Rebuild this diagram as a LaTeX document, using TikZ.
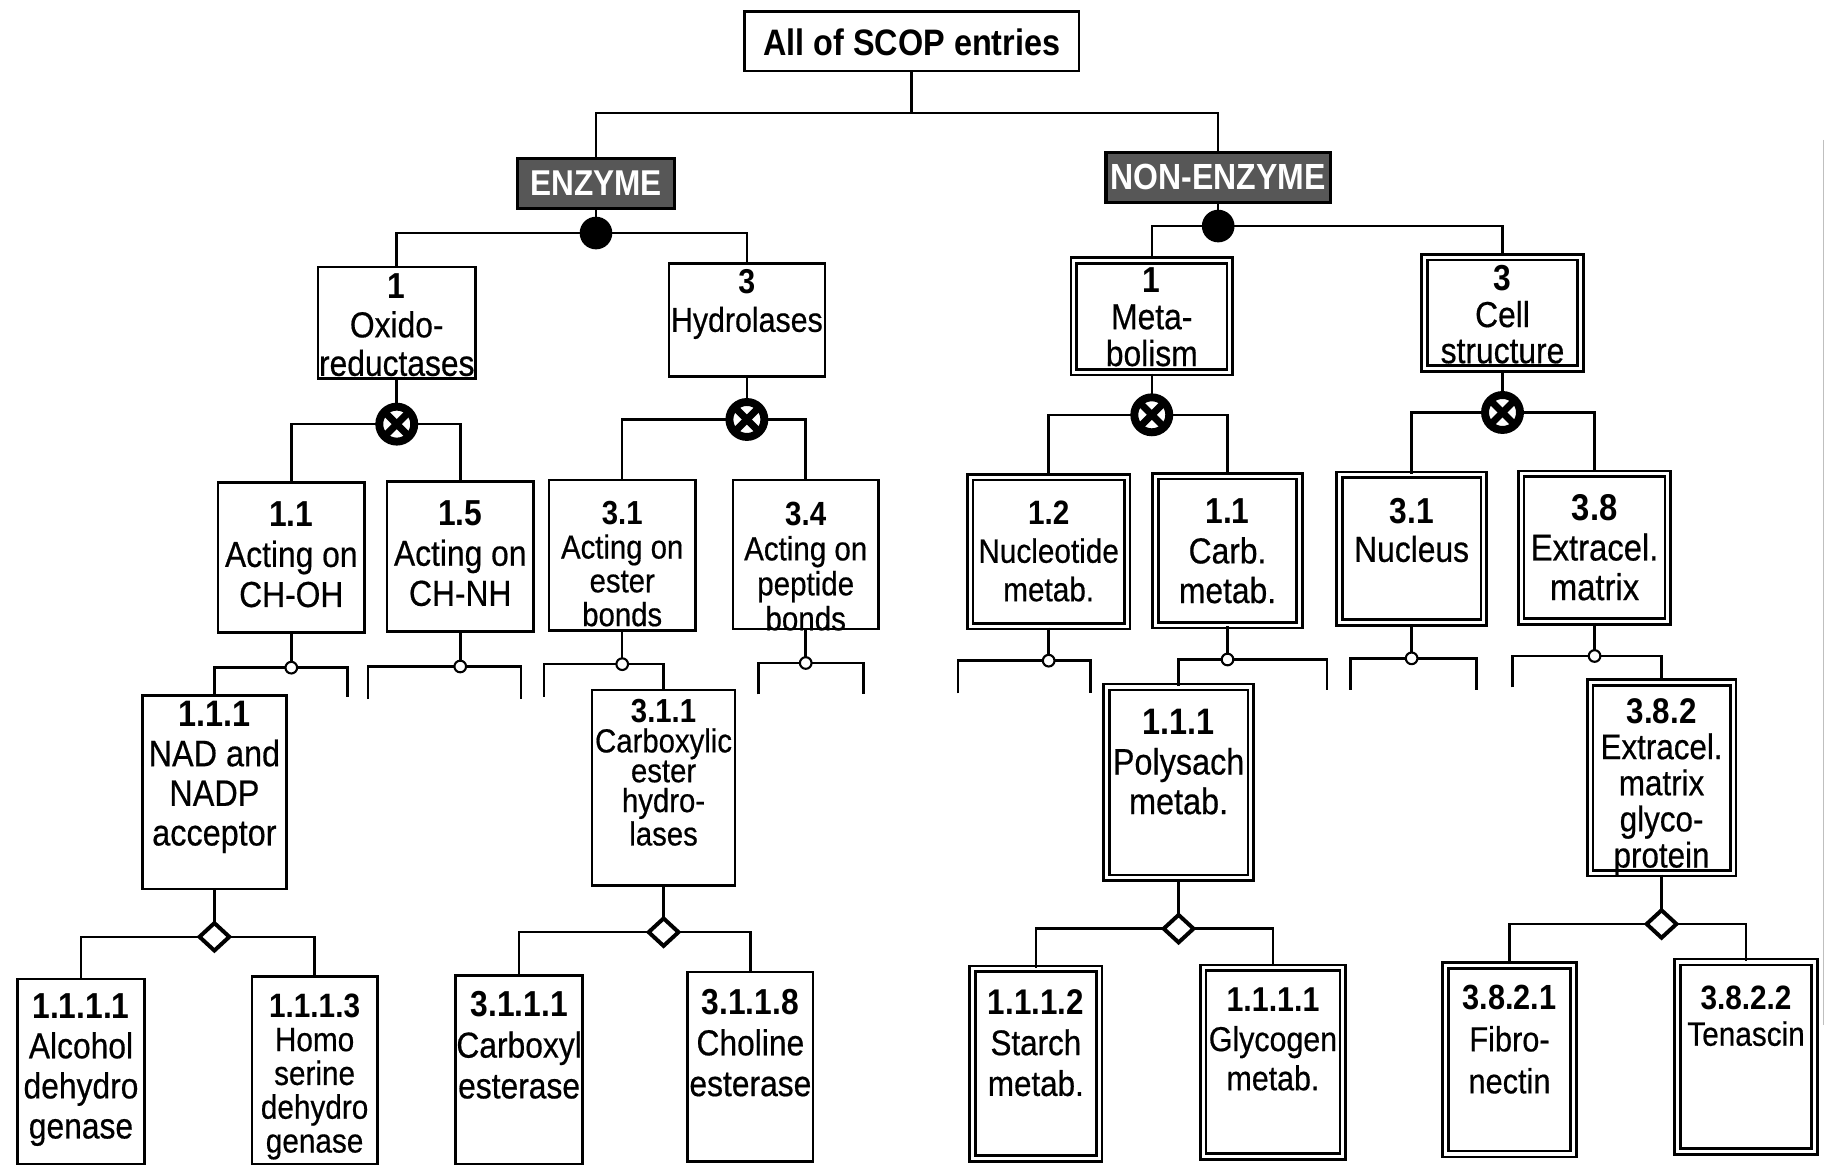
\documentclass[tikz,border=0pt]{standalone}
\usepackage{fontspec}
\setmainfont{Liberation Sans}[FakeStretch=0.88, UprightFeatures={FakeBold=0.5}]
\usetikzlibrary{fit,shapes.geometric}
\tikzset{
  tx/.style 2 args={font=\fontsize{#1}{#2}\selectfont},
  sbox/.style={draw, line width=1.1pt, inner sep=-0.55pt},
  dbox/.style={draw, line width=1.15pt, double, double distance=1.3pt, inner sep=-1.8pt},
  gbox/.style={draw, fill=black!66, line width=1.3pt, inner sep=-0.6pt},
  fdot/.style={circle, fill=black, inner sep=0pt, minimum size=14pt},
  xdot/.style={circle, draw=black, fill=white, line width=3.4pt, inner sep=0pt, minimum size=15pt,
    path picture={
      \draw[line width=3pt] (path picture bounding box.south west) -- (path picture bounding box.north east);
      \draw[line width=3pt] (path picture bounding box.north west) -- (path picture bounding box.south east);}},
  odot/.style={circle, draw, fill=white, line width=0.9pt, inner sep=0pt, minimum size=5pt},
  dia/.style={diamond, draw, fill=white, line width=1.7pt, inner sep=0pt, minimum width=13.5pt, minimum height=12.5pt},
  conn/.style={line width=1.1pt}
}
\newcommand\tbox[9]{%
  \node[#2, fit={(#4,#5) (#6,#7)}] (#1) {};
  \node[#3, align=center, inner sep=0pt] (#1t) at ({(#4+#6)/2},#8) {#9};
}
\begin{document}
\begin{tikzpicture}[x=0.5pt,y=-0.5pt]
\useasboundingbox (0,0) rectangle (1568,1002);
% level 0/1
\tbox{root}{sbox}{tx={15.8}{18}}{638}{9}{927}{62}{36}{\textbf{All of SCOP entries}}
\tbox{enz}{gbox}{tx={15.4}{17},text=white}{443}{135}{580}{180}{157}{\textbf{ENZYME}}
\tbox{non}{gbox}{tx={15.6}{17},text=white}{948}{130}{1143}{175}{152}{\textbf{NON-ENZYME}}
% level 2
\tbox{oxi}{sbox}{tx={15.5}{16.5}}{272}{228}{409}{326}{279}{\textbf{1}\\Oxido-\\reductases}
\tbox{hyd}{sbox}{tx={14.8}{16.5}}{573}{225}{709}{324}{261}{\textbf{3}\\Hydrolases}
\tbox{met}{dbox}{tx={15.5}{15.8}}{918}{220}{1059}{323}{272}{\textbf{1}\\Meta-\\bolism}
\tbox{cel}{dbox}{tx={15.5}{15.5}}{1219}{217}{1360}{320}{270}{\textbf{3}\\Cell\\structure}
% level 3
\tbox{aa}{sbox}{tx={15.5}{17.2}}{186}{413}{314}{544}{476}{\textbf{1.1}\\Acting on\\CH-OH}
\tbox{ab}{sbox}{tx={15.5}{17.2}}{331}{412}{459}{543}{475}{\textbf{1.5}\\Acting on\\CH-NH}
\tbox{ac}{sbox}{tx={14.3}{14.5}}{470}{411}{598}{542}{484}{\textbf{3.1}\\Acting on\\ester\\bonds}
\tbox{ad}{sbox}{tx={14.4}{15}}{628}{411}{755}{541}{486}{\textbf{3.4}\\Acting on\\peptide\\bonds}
\tbox{ba}{dbox}{tx={14.5}{16.5}}{829}{406}{971}{541}{473}{\textbf{1.2}\\Nucleotide\\metab.}
\tbox{bb}{dbox}{tx={15.5}{17}}{988}{405}{1119}{540}{473}{\textbf{1.1}\\Carb.\\metab.}
\tbox{bc}{dbox}{tx={15.5}{16.5}}{1146}{404}{1277}{538}{455}{\textbf{3.1}\\Nucleus}
\tbox{bd}{dbox}{tx={16}{17}}{1302}{403}{1435}{537}{470}{\textbf{3.8}\\Extracel.\\matrix}
% level 4
\tbox{na}{sbox}{tx={15.8}{17}}{121}{596}{247}{764}{667}{\textbf{1.1.1}\\NAD and\\NADP\\acceptor}
\tbox{nb}{sbox}{tx={14.3}{12.8}}{507}{591}{632}{761}{663}{\textbf{3.1.1}\\Carboxylic\\ester\\hydro-\\lases}
\tbox{pa}{dbox}{tx={15.8}{17}}{946}{586}{1077}{757}{654}{\textbf{1.1.1}\\Polysach\\metab.}
\tbox{pb}{dbox}{tx={15.3}{15.5}}{1361}{582}{1491}{753}{675}{\textbf{3.8.2}\\Extracel.\\matrix\\glyco-\\protein}
% level 5
\tbox{ca}{sbox}{tx={15.5}{17.2}}{14}{839}{125}{1000}{918}{\textbf{1.1.1.1}\\Alcohol\\dehydro\\genase}
\tbox{cb}{sbox}{tx={14.5}{14.5}}{215}{837}{325}{1000}{924}{\textbf{1.1.1.3}\\Homo\\serine\\dehydro\\genase}
\tbox{cc}{sbox}{tx={15.5}{17.5}}{390}{836}{501}{1000}{897}{\textbf{3.1.1.1}\\Carboxyl\\esterase}
\tbox{cd}{sbox}{tx={15.5}{17.5}}{589}{833}{699}{998}{895}{\textbf{3.1.1.8}\\Choline\\esterase}
\tbox{da}{dbox}{tx={15.3}{17.5}}{831}{828}{947}{998}{895}{\textbf{1.1.1.2}\\Starch\\metab.}
\tbox{db}{dbox}{tx={14.8}{16.8}}{1029}{827}{1156}{996}{892}{\textbf{1.1.1.1}\\Glycogen\\metab.}
\tbox{dc}{dbox}{tx={15}{18}}{1237}{825}{1354}{994}{892}{\textbf{3.8.2.1}\\Fibro-\\nectin}
\tbox{dd}{dbox}{tx={14.5}{15.5}}{1436}{822}{1561}{992}{872}{\textbf{3.8.2.2}\\Tenascin}
% junction coordinates
\coordinate (r0) at (782.5,97);
\coordinate (j1) at (511.5,200);
\coordinate (j2) at (1045.5,194);
\coordinate (x1) at (340.5,364);
\coordinate (x2) at (641,360);
\coordinate (x3) at (988.5,356);
\coordinate (x4) at (1289.5,354);
\coordinate (k1) at (250,573);   \coordinate (k1r) at (298,598);
\coordinate (k2) at (395,572);   \coordinate (k2l) at (316,600); \coordinate (k2r) at (447,600);
\coordinate (k3) at (534,570);   \coordinate (k3l) at (467,598);
\coordinate (k4) at (691.5,569); \coordinate (k4l) at (651,596); \coordinate (k4r) at (741,596);
\coordinate (k5) at (900,567);   \coordinate (k5l) at (822,595); \coordinate (k5r) at (936,595);
\coordinate (k6) at (1053.5,566);\coordinate (k6r) at (1139,592);
\coordinate (k7) at (1211.5,565);\coordinate (k7l) at (1159,592); \coordinate (k7r) at (1267,592);
\coordinate (k8) at (1368.5,563);\coordinate (k8l) at (1298,590);
\coordinate (m1) at (184,804);
\coordinate (m2) at (569.5,800);
\coordinate (m3) at (1011.5,797);
\coordinate (m4) at (1426,793);
% connectors
\begin{scope}[conn]
\draw (root.south) -- (r0);
\draw (enz.north) |- (r0) -| (non.north);
\draw (enz.south) -- (j1);
\draw (oxi.north) |- (j1) -| (hyd.north);
\draw (non.south) -- (j2);
\draw (met.north) |- (j2) -| (cel.north);
\draw (oxi.south) -- (x1);
\draw (aa.north) |- (x1) -| (ab.north);
\draw (hyd.south) -- (x2);
\draw (ac.north) |- (x2) -| (ad.north);
\draw (met.south) -- (x3);
\draw (ba.north) |- (x3) -| (bb.north);
\draw (cel.south) -- (x4);
\draw (bc.north) |- (x4) -| (bd.north);
\draw (aa.south) -- (k1);
\draw (na.north) |- (k1) -| (k1r);
\draw (ab.south) -- (k2);
\draw (k2l) |- (k2) -| (k2r);
\draw (ac.south) -- (k3);
\draw (k3l) |- (k3) -| (nb.north);
\draw (ad.south) -- (k4);
\draw (k4l) |- (k4) -| (k4r);
\draw (ba.south) -- (k5);
\draw (k5l) |- (k5) -| (k5r);
\draw (bb.south) -- (k6);
\draw (pa.north) |- (k6) -| (k6r);
\draw (bc.south) -- (k7);
\draw (k7l) |- (k7) -| (k7r);
\draw (bd.south) -- (k8);
\draw (k8l) |- (k8) -| (pb.north);
\draw (na.south) -- (m1);
\draw (ca.north) |- (m1) -| (cb.north);
\draw (nb.south) -- (m2);
\draw (cc.north) |- (m2) -| (cd.north);
\draw (pa.south) -- (m3);
\draw (da.north) |- (m3) -| (db.north);
\draw (pb.south) -- (m4);
\draw (dc.north) |- (m4) -| (dd.north);
\end{scope}
% markers
\node[fdot] (j1m) at (j1) {};
\node[fdot] (j2m) at (j2) {};
\node[xdot] (x1m) at (x1) {};
\node[xdot] (x2m) at (x2) {};
\node[xdot] (x3m) at (x3) {};
\node[xdot] (x4m) at (x4) {};
\node[odot] (k1m) at (k1) {};
\node[odot] (k2m) at (k2) {};
\node[odot] (k3m) at (k3) {};
\node[odot] (k4m) at (k4) {};
\node[odot] (k5m) at (k5) {};
\node[odot] (k6m) at (k6) {};
\node[odot] (k7m) at (k7) {};
\node[odot] (k8m) at (k8) {};
\node[dia] (m1m) at (m1) {};
\node[dia] (m2m) at (m2) {};
\node[dia] (m3m) at (m3) {};
\node[dia] (m4m) at (m4) {};
% scanned page edge
\draw[black!25, line width=0.6pt] (1565,120) -- (1565,880);
\end{tikzpicture}
\end{document}
